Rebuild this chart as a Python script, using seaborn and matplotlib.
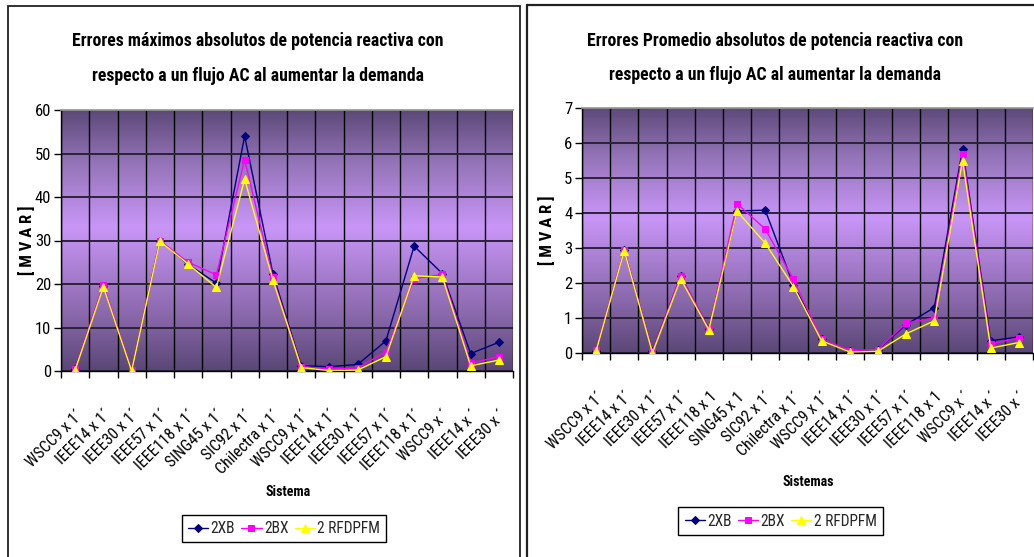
import numpy as np
import pandas as pd
import matplotlib
matplotlib.use("Agg")
import matplotlib.pyplot as plt
from matplotlib import font_manager
from matplotlib.colors import LinearSegmentedColormap
from matplotlib.patches import Rectangle
from matplotlib.ticker import FixedLocator
import seaborn as sns

# ---- data ----
systems_max = ["WSCC9 x 1´", "IEEE14 x 1´", "IEEE30 x 1´", "IEEE57 x 1´", "IEEE118 x 1´",
               "SING45 x 1´", "SIC92 x 1´", "Chilectra x 1´", "WSCC9 x 1´", "IEEE14 x 1´",
               "IEEE30 x 1´", "IEEE57 x 1´", "IEEE118 x 1´", "WSCC9 x ´", "IEEE14 x ´", "IEEE30 x ´"]
systems_avg = ["WSCC9 x 1´", "IEEE14 x 1´", "IEEE30 x 1´", "IEEE57 x 1´", "IEEE118 x 1",
               "SING45 x 1", "SIC92 x 1´", "Chilectra x 1´", "WSCC9 x 1´", "IEEE14 x 1´",
               "IEEE30 x 1´", "IEEE57 x 1´", "IEEE118 x 1", "WSCC9 x ´", "IEEE14 x ´", "IEEE30 x ´"]

series_names = ["2XB", "2BX", "2 RFDPFM"]

max_2xb = [0.5, 19.5, 0.0, 30.0, 24.5, 20.2, 54.0, 22.4, 1.2, 1.0, 1.5, 6.9, 28.7, 22.4, 4.0, 6.6]
max_2bx = [0.5, 19.8, 0.2, 30.0, 25.0, 22.1, 48.6, 21.5, 1.0, 0.5, 0.7, 4.4, 21.2, 22.2, 1.8, 3.3]
max_rfd = [0.2, 19.3, 0.0, 29.8, 24.6, 19.2, 44.1, 21.0, 0.8, 0.1, 0.2, 3.3, 21.9, 21.6, 1.2, 2.5]

avg_2xb = [0.05, 2.93, 0.05, 2.20, 0.70, 4.06, 4.08, 1.95, 0.40, 0.05, 0.10, 0.81, 1.30, 5.82, 0.35, 0.46]
avg_2bx = [0.10, 2.95, 0.05, 2.20, 0.70, 4.27, 3.54, 2.11, 0.40, 0.07, 0.10, 0.86, 1.00, 5.70, 0.26, 0.43]
avg_rfd = [0.05, 2.92, 0.00, 2.12, 0.66, 4.05, 3.14, 1.90, 0.35, 0.03, 0.05, 0.55, 0.92, 5.50, 0.14, 0.30]

yticks_max = [0, 10, 20, 30, 40, 50, 60]
yticks_avg = [0, 1, 2, 3, 4, 5, 6, 7]

# ---- style ----
sns.set_theme(style="ticks")

# prefer a narrow sans face when one is available
installed = {f.name for f in font_manager.fontManager.ttflist}
narrow = [n for n in ["Liberation Sans Narrow", "Arial Narrow", "Roboto Condensed"] if n in installed]
plt.rcParams["font.family"] = narrow + ["Liberation Sans", "DejaVu Sans"]
plt.rcParams["axes.unicode_minus"] = False

colors = {"2XB": "#000080", "2BX": "#FF00FF", "2 RFDPFM": "#FFFF00"}
markers = {"2XB": "D", "2BX": "s", "2 RFDPFM": "^"}
msize = {"2XB": 4.5, "2BX": 5.0, "2 RFDPFM": 5.5}

W, H = 1034, 557
fig = plt.figure(figsize=(W / 100, H / 100), dpi=100)
fig.patch.set_facecolor("white")

bg_cmap = LinearSegmentedColormap.from_list(
    "purple_band",
    [(0.0, "#5a4776"), (0.22, "#8b69ad"), (0.55, "#c996f8"), (0.80, "#9474b8"), (1.0, "#5c4978")])


def px_axes(x0, x1, y0, y1):
    return fig.add_axes([x0 / W, 1 - y1 / H, (x1 - x0) / W, (y1 - y0) / H])


def draw_panel(ax, cats, values, yticks, ylabel, ylab_x, xlabel, xlab_y, leg_center):
    n = len(cats)
    pos = np.arange(n)
    ymax = yticks[-1]

    # banded purple background
    grad = np.linspace(0, 1, 256).reshape(-1, 1)
    ax.imshow(grad, cmap=bg_cmap, aspect="auto", origin="lower",
              extent=[0, 1, 0, 1], transform=ax.transAxes, zorder=0)

    for name, vals in zip(series_names, values):
        df = pd.DataFrame({"pos": pos, "value": vals})
        sns.lineplot(data=df, x="pos", y="value", ax=ax, color=colors[name],
                     marker=markers[name], markersize=msize[name],
                     markeredgecolor=colors[name], markerfacecolor=colors[name],
                     linewidth=1.0, label=name, zorder=3)

    ax.set_xlim(-0.5, n - 0.5)
    ax.set_ylim(0, ymax)
    ax.set_yticks(yticks)
    ax.set_yticklabels([str(t) for t in yticks])

    # category labels at centres, tick marks and grid at boundaries
    ax.set_xticks(pos)
    ax.set_xticklabels(cats, rotation=45, ha="right", va="top", rotation_mode="anchor")
    ax.xaxis.set_minor_locator(FixedLocator(np.arange(-0.5, n, 1.0)))
    ax.tick_params(axis="x", which="major", length=0, pad=26, labelsize=11.5, colors="black")
    ax.tick_params(axis="x", which="minor", length=5, width=1, direction="out", color="black")
    ax.tick_params(axis="y", which="major", length=5, width=1, direction="out",
                   labelsize=12, pad=2, colors="black")

    ax.grid(False)
    ax.xaxis.grid(True, which="minor", color="black", linewidth=1.0)
    ax.yaxis.grid(True, which="major", color="#2a2438", linewidth=1.4)

    for side in ["left", "bottom"]:
        ax.spines[side].set_color("black")
        ax.spines[side].set_linewidth(1.0)
    ax.spines["top"].set_visible(True)
    ax.spines["top"].set_color("#999999")
    ax.spines["right"].set_visible(False)

    ax.set_ylabel(ylabel, fontsize=12, fontweight="bold", color="black")
    ax.yaxis.set_label_coords(ylab_x, 0.5)
    ax.set_xlabel(xlabel, fontsize=10, fontweight="bold", color="black")
    ax.xaxis.set_label_coords(0.502, xlab_y)

    h, l = ax.get_legend_handles_labels()
    if ax.legend_:
        ax.legend_.remove()
    leg = fig.legend(h, l, loc="center", bbox_to_anchor=(leg_center[0] / W, 1 - leg_center[1] / H),
                     ncol=3, frameon=True, fancybox=False, framealpha=1, edgecolor="black",
                     fontsize=11.2, handlelength=1.3, handletextpad=0.15, columnspacing=0.4,
                     borderpad=0.4, borderaxespad=0)
    leg.get_frame().set_linewidth(1.0)


# left panel: maximum errors
ax1 = px_axes(61, 513, 110, 371)
draw_panel(ax1, systems_max, [max_2xb, max_2bx, max_rfd], yticks_max,
           "[ M V A R ]", -0.058, "Sistema", -0.437, (284, 528.5))

# right panel: average errors
ax2 = px_axes(582, 1033, 108, 353)
draw_panel(ax2, systems_avg, [avg_2xb, avg_2bx, avg_rfd], yticks_avg,
           "[ M V A R ]", -0.060, "Sistemas", -0.498, (780.5, 521))

# titles
title_kw = dict(fontsize=12.8, fontweight="bold", ha="center", va="center", color="black")
fig.text(258 / W, 1 - 41 / H, "Errores máximos absolutos de potencia reactiva con", **title_kw)
fig.text(258 / W, 1 - 76 / H, "respecto a un flujo AC al aumentar la demanda", **title_kw)
fig.text(775 / W, 1 - 41 / H, "Errores Promedio absolutos de potencia reactiva con", **title_kw)
fig.text(775 / W, 1 - 75 / H, "respecto a un flujo AC al aumentar la demanda", **title_kw)

# chart frames
fig.add_artist(Rectangle((8 / W, -0.02), (520 - 8) / W, 1.02 - 6 / H, transform=fig.transFigure,
                         fill=False, edgecolor="#222222", linewidth=1.3, clip_on=False))
fig.add_artist(Rectangle((527 / W, -0.02), 0.6, 1.02 - 5 / H, transform=fig.transFigure,
                         fill=False, edgecolor="#222222", linewidth=1.6, clip_on=False))

fig.savefig("out.png", dpi=100)
